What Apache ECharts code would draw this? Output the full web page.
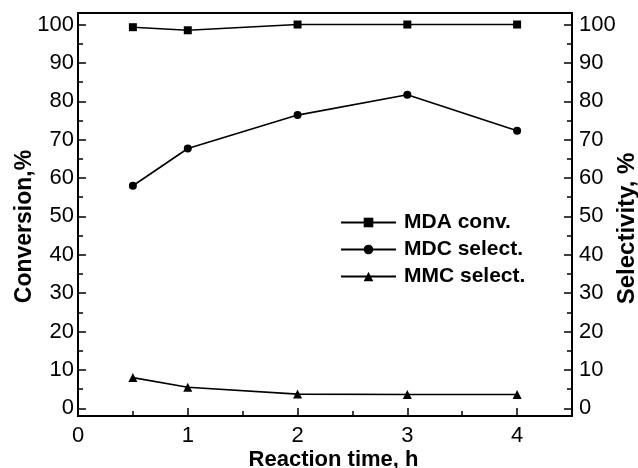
<!DOCTYPE html>
<html>
<head>
<meta charset="utf-8">
<script src="https://cdn.jsdelivr.net/npm/echarts@6/dist/echarts.min.js"></script>
<style>
html,body{margin:0;padding:0;background:#fff;}
#c{width:638px;height:468px;}
</style>
</head>
<body>
<div id="c"></div>
<script>
var times = [0.5, 1, 2, 3, 4];
var mdaConv = [99.3, 98.5, 100, 100, 100];
var mdcSelect = [58.0, 67.7, 76.4, 81.7, 72.3];
var mmcSelect = [8.0, 5.5, 3.7, 3.6, 3.6];
var xTicks = [0, 1, 2, 3, 4];
var xMinorTicks = [0.5, 1.5, 2.5, 3.5];
var yTicks = [0, 10, 20, 30, 40, 50, 60, 70, 80, 90, 100];
var yMinorTicks = [5, 15, 25, 35, 45, 55, 65, 75, 85, 95];
var seriesNames = ['MDA conv.', 'MDC select.', 'MMC select.'];

var FONT = '"Liberation Sans", Arial, Helvetica, sans-serif';
var BLK = '#000';

function pairs(xs, ys) { return xs.map(function (x, i) { return [x, ys[i]]; }); }

var chart = echarts.init(document.getElementById('c'), null, { renderer: 'canvas' });

var yBase = { type: 'value', min: -2, max: 103, splitLine: { show: false }, axisLine: { show: false, onZero: false }, nameMoveOverlap: false };
var xBase = { type: 'value', min: 0, max: 4.5, splitLine: { show: false }, axisLine: { show: false, onZero: false }, nameMoveOverlap: false };

var option = {
  backgroundColor: '#fff',
  animation: false,
  textStyle: { fontFamily: FONT, color: BLK },
  grid: { left: 78, right: 66, top: 13, bottom: 52, containLabel: false, outerBoundsMode: 'none',
          show: true, borderColor: BLK, borderWidth: 2, backgroundColor: 'transparent' },
  legend: {
    orient: 'vertical',
    left: 335,
    top: 206,
    itemWidth: 55,
    itemHeight: 12,
    itemGap: 4,
    data: seriesNames,
    textStyle: { fontFamily: FONT, fontSize: 21, fontWeight: 'bold', color: BLK, lineHeight: 23, padding: [0, 0, 0, 3] }
  },
  xAxis: [
    Object.assign({}, xBase, {
      position: 'bottom',
      axisTick: { show: true, inside: true, length: 8, customValues: xTicks, lineStyle: { color: BLK, width: 1.5 } },
      axisLabel: { show: true, customValues: xTicks, margin: 9, fontSize: 22, color: BLK, fontFamily: FONT },
      name: 'Reaction time, h',
      nameLocation: 'middle',
      nameGap: 33,
      nameTextStyle: { fontSize: 22, fontWeight: 'bold', color: BLK, fontFamily: FONT, padding: [0, 0, 0, 17] }
    }),
    Object.assign({}, xBase, {
      position: 'bottom',
      axisTick: { show: true, inside: true, length: 5, customValues: xMinorTicks, lineStyle: { color: BLK, width: 1.5 } },
      axisLabel: { show: false }
    })
  ],
  yAxis: [
    Object.assign({}, yBase, {
      position: 'left',
      axisTick: { show: true, inside: true, length: 8, customValues: yTicks, lineStyle: { color: BLK, width: 1.5 } },
      axisLabel: { show: true, customValues: yTicks, margin: 4, fontSize: 22, color: BLK, fontFamily: FONT },
      name: 'Conversion,%',
      nameLocation: 'middle',
      nameRotate: 90,
      nameGap: 42,
      nameTextStyle: { fontSize: 23, fontWeight: 'bold', color: BLK, fontFamily: FONT, padding: [0, 24, 0, 0] }
    }),
    Object.assign({}, yBase, {
      position: 'right',
      axisTick: { show: true, inside: true, length: 8, customValues: yTicks, lineStyle: { color: BLK, width: 1.5 } },
      axisLabel: { show: true, customValues: yTicks, margin: 7, fontSize: 22, color: BLK, fontFamily: FONT },
      name: 'Selectivity, %',
      nameLocation: 'middle',
      nameRotate: 90,
      nameGap: 43,
      nameTextStyle: { fontSize: 24, fontWeight: 'bold', color: BLK, fontFamily: FONT, padding: [0, 28, 0, 0] }
    }),
    Object.assign({}, yBase, {
      position: 'left',
      axisTick: { show: true, inside: true, length: 5, customValues: yMinorTicks, lineStyle: { color: BLK, width: 1.5 } },
      axisLabel: { show: false }
    }),
    Object.assign({}, yBase, {
      position: 'right',
      axisTick: { show: true, inside: true, length: 5, customValues: yMinorTicks, lineStyle: { color: BLK, width: 1.5 } },
      axisLabel: { show: false }
    })
  ],
  series: [
    {
      name: seriesNames[0], type: 'line', xAxisIndex: 0, yAxisIndex: 0,
      data: pairs(times, mdaConv),
      symbol: 'rect', symbolSize: 8,
      lineStyle: { color: BLK, width: 1.6 }, itemStyle: { color: BLK }
    },
    {
      name: seriesNames[1], type: 'line', xAxisIndex: 0, yAxisIndex: 1,
      data: pairs(times, mdcSelect),
      symbol: 'circle', symbolSize: 8,
      lineStyle: { color: BLK, width: 1.6 }, itemStyle: { color: BLK }
    },
    {
      name: seriesNames[2], type: 'line', xAxisIndex: 0, yAxisIndex: 1,
      data: pairs(times, mmcSelect),
      symbol: 'triangle', symbolSize: 9,
      lineStyle: { color: BLK, width: 1.6 }, itemStyle: { color: BLK }
    }
  ]
};
chart.setOption(option);
</script>
</body>
</html>
